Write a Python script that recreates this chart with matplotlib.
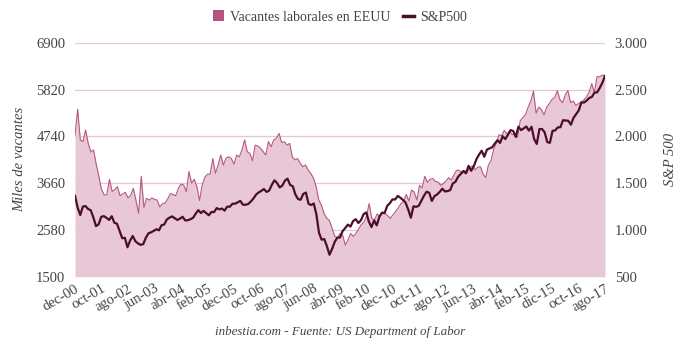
import numpy as np
import matplotlib
matplotlib.use("Agg")
import matplotlib.pyplot as plt
from matplotlib.patches import Patch
from matplotlib.lines import Line2D

# Job openings (thousands), monthly dec-00 .. ago-17
vacantes = [
    4770, 5370, 4660, 4620, 4890, 4580, 4380, 4430, 4100, 3820,
    3520, 3390, 3390, 3750, 3470, 3510, 3580, 3370, 3410, 3450,
    3320, 3380, 3540, 3270, 2960, 3820, 3100, 3310, 3270, 3320,
    3290, 3270, 3110, 3190, 3200, 3300, 3420, 3400, 3370, 3540,
    3640, 3620, 3460, 3930, 3660, 3750, 3580, 3260, 3620, 3800,
    3870, 3870, 4230, 3890, 4080, 4310, 4080, 4240, 4270, 4230,
    4100, 4310, 4270, 4430, 4660, 4390, 4350, 4180, 4540, 4520,
    4470, 4390, 4310, 4620, 4500, 4660, 4700, 4810, 4600, 4620,
    4540, 4580, 4270, 4200, 4230, 4120, 4040, 4080, 3960, 3880,
    3780, 3580, 3270, 3150, 2960, 2850, 2800, 2620, 2440, 2390,
    2500, 2460, 2230, 2350, 2500, 2430, 2500, 2600, 2700, 2760,
    2900, 3190, 2850, 2800, 2950, 2900, 3000, 2960, 2910, 2850,
    2930, 3010, 3090, 3190, 3240, 3400, 3250, 3500, 3460, 3270,
    3610, 3550, 3820, 3680, 3750, 3770, 3700, 3690, 3610, 3650,
    3710, 3790, 3730, 3850, 3960, 3960, 3890, 3950, 3910, 4020,
    4060, 3970, 4030, 4040, 3870, 3790, 4080, 4180, 4450, 4580,
    4780, 4760, 4880, 4800, 4860, 4780, 4800, 4720, 5100, 5180,
    5240, 5420, 5560, 5790, 5280, 5420, 5360, 5240, 5420, 5500,
    5600, 5640, 5800, 5590, 5520, 5700, 5800, 5520, 5560, 5460,
    5500, 5540, 5580, 5660, 5760, 5960, 5750, 6120, 6120, 6160,
    6130,
]

# S&P 500 monthly closes
sp500 = [
    1366, 1240, 1160, 1250, 1256, 1224, 1211, 1134, 1041, 1060, 1140, 1148,
    1130, 1107, 1147, 1077, 1067, 990, 912, 916, 815, 886, 936, 880,
    856, 841, 848, 917, 964, 975, 990, 1008, 996, 1051, 1058, 1112,
    1131, 1145, 1126, 1107, 1121, 1141, 1102, 1104, 1115, 1130, 1174, 1212,
    1181, 1204, 1181, 1157, 1192, 1191, 1234, 1220, 1229, 1207, 1250, 1248,
    1280, 1281, 1295, 1311, 1270, 1270, 1277, 1304, 1336, 1378, 1401, 1418,
    1438, 1407, 1421, 1482, 1531, 1503, 1455, 1474, 1527, 1549, 1481, 1468,
    1379, 1331, 1323, 1386, 1400, 1280, 1267, 1283, 1166, 969, 896, 903,
    826, 735, 798, 873, 919, 919, 988, 1021, 1057, 1036, 1096, 1115,
    1074, 1105, 1169, 1187, 1089, 1031, 1102, 1049, 1141, 1183, 1181, 1258,
    1286, 1327, 1326, 1364, 1345, 1321, 1292, 1219, 1131, 1253, 1247, 1258,
    1312, 1366, 1409, 1398, 1310, 1362, 1379, 1407, 1441, 1412, 1416, 1426,
    1498, 1515, 1569, 1598, 1631, 1606, 1686, 1633, 1682, 1757, 1806, 1848,
    1783, 1860, 1872, 1884, 1924, 1960, 1931, 2003, 1972, 2018, 2068, 2059,
    1995, 2105, 2068, 2086, 2107, 2063, 2104, 1972, 1920, 2079, 2080, 2044,
    1940, 1932, 2060, 2065, 2097, 2099, 2174, 2171, 2168, 2126, 2199, 2239,
    2279, 2364, 2363, 2384, 2412, 2423, 2470, 2472, 2519, 2575, 2648,
]

tick_labels = ["dec-00", "oct-01", "ago-02", "jun-03", "abr-04", "feb-05",
               "dec-05", "oct-06", "ago-07", "jun-08", "abr-09", "feb-10",
               "dec-10", "oct-11", "ago-12", "jun-13", "abr-14", "feb-15",
               "dic-15", "oct-16", "ago-17"]
left_ticks = [1500, 2580, 3660, 4740, 5820, 6900]
right_ticks = [500, 1000, 1500, 2000, 2500, 3000]

fill_color = "#e8c8d6"
vac_color = "#b6587f"
sp_color = "#4a0e2c"
grid_color = "#e6c6d3"
text_color = "#444444"

plt.rcParams['font.family'] = ['Liberation Serif', 'DejaVu Serif']

fig = plt.figure(figsize=(6.8, 3.46), dpi=100)
ax = fig.add_axes([75 / 680, 1 - 276.7 / 346, 530 / 680, 233.7 / 346])

x_vac = np.arange(len(vacantes))
ax.fill_between(x_vac, 1500, vacantes, color=fill_color, lw=0, zorder=2)
ax.plot(x_vac, vacantes, color=vac_color, lw=0.8, zorder=3)

ax.set_ylim(1500, 6900)
ax.set_xlim(0, len(vacantes) - 1)
ax.set_yticks(left_ticks)
ax.set_yticklabels([str(t) for t in left_ticks])
ax.grid(axis='y', color=grid_color, lw=0.9, zorder=1)
ax.set_axisbelow(True)

ax.set_xticks(np.arange(0, len(vacantes), 10))
ax.set_xticklabels(tick_labels, rotation=30, ha='right', rotation_mode='anchor')

for s in ax.spines.values():
    s.set_visible(False)
ax.tick_params(axis='both', length=0, labelsize=10.5, colors=text_color)
ax.tick_params(axis='y', pad=7)
ax.tick_params(axis='x', pad=4)
ax.set_ylabel("Miles de vacantes", style='italic', fontsize=10.5, color=text_color, labelpad=7)

ax2 = ax.twinx()
x_sp = np.linspace(0, len(vacantes) - 1, len(sp500))
ax2.plot(x_sp, sp500, color=sp_color, lw=1.6, zorder=4)
ax2.set_ylim(500, 3000)
ax2.set_yticks(right_ticks)
ax2.set_yticklabels([f"{t:,}".replace(",", ".") for t in right_ticks])
for s in ax2.spines.values():
    s.set_visible(False)
ax2.tick_params(axis='y', length=0, labelsize=10.5, colors=text_color, pad=7)
ax2.set_ylabel("S&P 500", style='italic', fontsize=10.5, color=text_color,
               rotation=90, labelpad=12)

handles = [Patch(facecolor="#b5527f", edgecolor='none'),
           Line2D([0], [0], color=sp_color, lw=2.5)]
fig.legend(handles, ["Vacantes laborales en EEUU", "S&P500"], loc='center',
           bbox_to_anchor=(0.5, 1 - 17 / 346), ncol=2, frameon=False,
           fontsize=10, handlelength=0.8, handleheight=0.8, columnspacing=0.9,
           handletextpad=0.45, labelcolor=text_color)

fig.text(0.5, 1 - 332 / 346, "inbestia.com - Fuente: US Department of Labor",
         ha='center', va='center', style='italic', fontsize=9.4, color=text_color)

fig.savefig("out.png", dpi=100)
